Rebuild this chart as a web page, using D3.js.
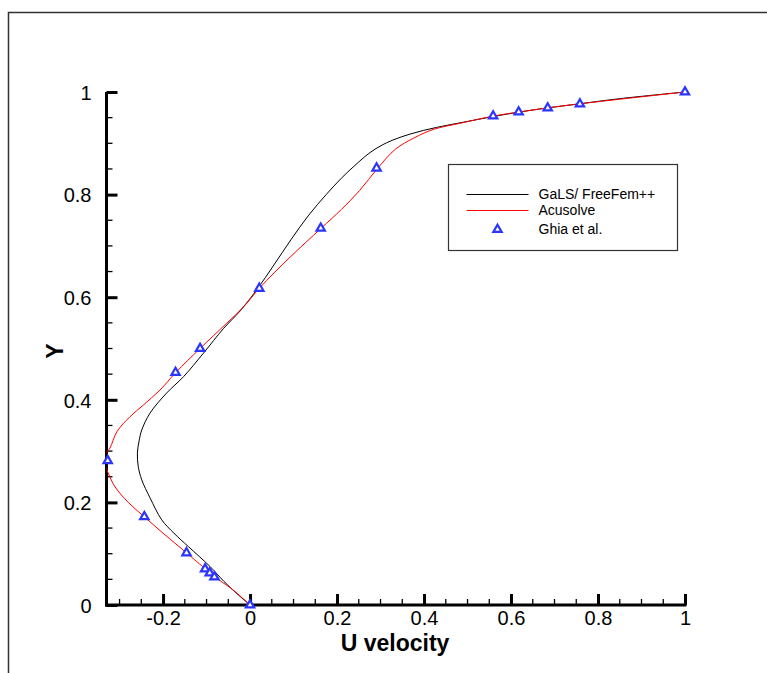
<!DOCTYPE html>
<html>
<head>
<meta charset="utf-8">
<script src="https://cdn.jsdelivr.net/npm/d3@7"></script>
<style>
  body { margin: 0; background: #fff; }
  svg { display: block; font-family: "Liberation Sans", Arial, Helvetica, sans-serif; }
</style>
</head>
<body>
<div id="chart"></div>
<script>
// GaLS/FreeFem++ u-velocity along vertical centreline
var galsU = [0, -0.03, -0.06, -0.092, -0.142, -0.175, -0.203, -0.23, -0.249, -0.257, -0.259, -0.255, -0.249, -0.23, -0.192, -0.153, -0.107, -0.061, -0.023, 0.015, 0.055, 0.094, 0.135, 0.175, 0.21, 0.24, 0.276, 0.314, 0.368, 0.429, 0.49, 0.558, 0.62, 0.684, 0.758, 0.85, 1];
var galsY = [0, 0.022, 0.046, 0.075, 0.114, 0.14, 0.166, 0.209, 0.244, 0.27, 0.296, 0.32, 0.341, 0.374, 0.413, 0.445, 0.491, 0.539, 0.573, 0.614, 0.663, 0.712, 0.76, 0.8, 0.832, 0.856, 0.882, 0.901, 0.918, 0.931, 0.941, 0.952, 0.961, 0.969, 0.977, 0.987, 1];

// Acusolve
var acuU = [0, -0.04, -0.082, -0.093, -0.103, -0.146, -0.2, -0.243, -0.28, -0.31, -0.326, -0.335, -0.332, -0.322, -0.306, -0.276, -0.245, -0.207, -0.171, -0.115, -0.054, -0.015, 0.022, 0.092, 0.163, 0.21, 0.252, 0.293, 0.335, 0.376, 0.421, 0.483, 0.559, 0.618, 0.684, 0.758, 1];
var acuY = [0, 0.03, 0.055, 0.0625, 0.0703, 0.1016, 0.14, 0.1719, 0.2, 0.23, 0.257, 0.28, 0.295, 0.306, 0.338, 0.367, 0.39, 0.419, 0.453, 0.5, 0.549, 0.581, 0.618, 0.678, 0.734, 0.771, 0.808, 0.851, 0.889, 0.91, 0.927, 0.939, 0.953, 0.961, 0.969, 0.977, 1];

// Ghia et al. reference points
var ghiaY = [1.0, 0.9766, 0.9688, 0.9609, 0.9531, 0.8516, 0.7344, 0.6172, 0.5, 0.4531, 0.2813, 0.1719, 0.1016, 0.0703, 0.0625, 0.0547, 0.0];
var ghiaU = [1.0, 0.75837, 0.68439, 0.61756, 0.55892, 0.29093, 0.16256, 0.02135, -0.11477, -0.17119, -0.32726, -0.24299, -0.14612, -0.10338, -0.09266, -0.08186, 0.0];

var xTicks = [-0.2, 0, 0.2, 0.4, 0.6, 0.8, 1];
var yTicks = [0, 0.2, 0.4, 0.6, 0.8, 1];
var legendNames = ["GaLS/ FreeFem++", "Acusolve", "Ghia et al."];

var width = 767, height = 673;
var tickFont = "'Liberation Sans Narrow', 'Arial Narrow', 'Liberation Sans', Arial, sans-serif";

var svg = d3.select("#chart").append("svg")
  .attr("width", width)
  .attr("height", height);

// outer frame
svg.append("path")
  .attr("d", "M8.5," + height + "V12.5H" + width)
  .attr("fill", "none")
  .attr("stroke", "#333")
  .attr("stroke-width", 1.5);

var x = d3.scaleLinear().domain([-0.33, 1]).range([106.5, 685]);
var y = d3.scaleLinear().domain([0, 1]).range([605, 92]);

svg.append("clipPath").attr("id", "plotclip")
  .append("rect")
  .attr("x", x(-0.33)).attr("y", y(1) - 5)
  .attr("width", x(1) - x(-0.33) + 5).attr("height", y(0) - y(1) + 5);

// minor ticks every 0.05
var xMinor = d3.range(-0.3, 1.001, 0.05).filter(function (d) { return Math.abs(Math.round(d * 5) - d * 5) > 0.01; });
var yMinor = d3.range(0.05, 1.0, 0.05).filter(function (d) { return Math.abs(Math.round(d * 5) - d * 5) > 0.01; });

var axisG = svg.append("g");

axisG.selectAll(".xminor").data(xMinor).enter().append("line")
  .attr("x1", function (d) { return x(d); }).attr("x2", function (d) { return x(d); })
  .attr("y1", y(0)).attr("y2", y(0) - 6)
  .attr("stroke", "#000").attr("stroke-width", 1.3);

axisG.selectAll(".yminor").data(yMinor).enter().append("line")
  .attr("y1", function (d) { return y(d); }).attr("y2", function (d) { return y(d); })
  .attr("x1", x(-0.33)).attr("x2", x(-0.33) + 6)
  .attr("stroke", "#000").attr("stroke-width", 1.3);

// major ticks + labels (ticks point inward); plain hyphen for negatives
var fmt = function (d) { return String(d); };
var xAxis = d3.axisBottom(x).tickValues(xTicks).tickSize(-11).tickPadding(6).tickFormat(fmt);
var yAxis = d3.axisLeft(y).tickValues(yTicks).tickSize(-11).tickPadding(15).tickFormat(fmt);

var gx = svg.append("g").attr("transform", "translate(0," + y(0) + ")").call(xAxis);
var gy = svg.append("g").attr("transform", "translate(" + x(-0.33) + ",0)").call(yAxis);

[gx, gy].forEach(function (g) {
  g.select(".domain").remove();
  g.selectAll(".tick line").attr("stroke", "#000").attr("stroke-width", 3);
  g.selectAll(".tick text").attr("fill", "#000").style("font-size", "20px")
    .style("font-family", tickFont);
});
gy.selectAll(".tick text").attr("dy", "0.36em");

// axis lines
svg.append("line")
  .attr("x1", x(-0.33) - 1.5).attr("x2", x(1) + 1.5)
  .attr("y1", y(0)).attr("y2", y(0))
  .attr("stroke", "#000").attr("stroke-width", 3);
svg.append("line")
  .attr("x1", x(-0.33)).attr("x2", x(-0.33))
  .attr("y1", y(0) + 1.5).attr("y2", y(1))
  .attr("stroke", "#000").attr("stroke-width", 3);

// axis titles
svg.append("text")
  .attr("x", 395).attr("y", 651)
  .attr("text-anchor", "middle")
  .style("font-size", "23px").style("font-weight", "bold")
  .text("U velocity");

svg.append("text")
  .attr("transform", "translate(63,351) rotate(-90)")
  .attr("text-anchor", "middle")
  .style("font-size", "23px").style("font-weight", "bold")
  .text("Y");

// curves
var line = d3.line()
  .x(function (d) { return x(d[0]); })
  .y(function (d) { return y(d[1]); })
  .curve(d3.curveCatmullRom.alpha(0.5));

var plot = svg.append("g").attr("clip-path", "url(#plotclip)");

plot.append("path")
  .datum(d3.zip(galsU, galsY))
  .attr("d", line)
  .attr("fill", "none").attr("stroke", "#000").attr("stroke-width", 1);

plot.append("path")
  .datum(d3.zip(acuU, acuY))
  .attr("d", line)
  .attr("fill", "none").attr("stroke", "#ff0000").attr("stroke-width", 1);

var tri = d3.symbol().type(d3.symbolTriangle).size(30);

svg.selectAll(".ghia").data(d3.zip(ghiaU, ghiaY)).enter().append("path")
  .attr("d", tri)
  .attr("transform", function (d) { return "translate(" + x(d[0]) + "," + y(d[1]) + ")"; })
  .attr("fill", "#fff").attr("stroke", "#2b35ff").attr("stroke-width", 2.2);

// legend
var lg = svg.append("g").attr("transform", "translate(448.5,164.5)");
lg.append("rect")
  .attr("width", 229).attr("height", 86)
  .attr("fill", "#fff").attr("stroke", "#333").attr("stroke-width", 1.2);

var rowsY = [30, 46, 65];
lg.append("line").attr("x1", 18).attr("x2", 80).attr("y1", rowsY[0]).attr("y2", rowsY[0])
  .attr("stroke", "#000").attr("stroke-width", 1);
lg.append("line").attr("x1", 18).attr("x2", 80).attr("y1", rowsY[1]).attr("y2", rowsY[1])
  .attr("stroke", "#ff0000").attr("stroke-width", 1);
lg.append("path").attr("d", tri).attr("transform", "translate(49," + rowsY[2] + ")")
  .attr("fill", "#fff").attr("stroke", "#2b35ff").attr("stroke-width", 2.2);

lg.selectAll(".ltxt").data(legendNames).enter().append("text")
  .attr("x", 90)
  .attr("y", function (d, i) { return rowsY[i]; })
  .attr("dy", "0.35em")
  .style("font-size", "14px")
  .text(function (d) { return d; });
</script>
</body>
</html>
